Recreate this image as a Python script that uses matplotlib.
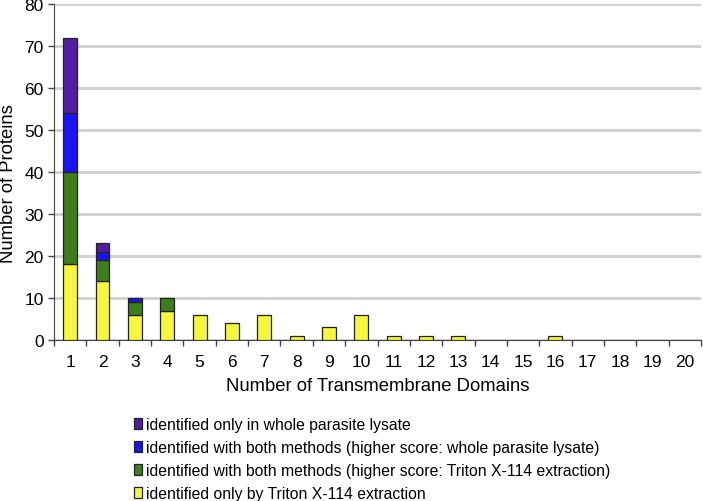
import matplotlib.pyplot as plt
import numpy as np

plt.rcParams['font.family'] = ['Liberation Sans', 'DejaVu Sans']

# number of transmembrane domains
tm_domains = list(range(1, 21))

triton_only = [18, 14, 6, 7, 6, 4, 6, 1, 3, 6, 1, 1, 1, 0, 0, 1, 0, 0, 0, 0]
both_triton = [22, 5, 3, 3, 0, 0, 0, 0, 0, 0, 0, 0, 0, 0, 0, 0, 0, 0, 0, 0]
both_lysate = [14, 2, 1, 0, 0, 0, 0, 0, 0, 0, 0, 0, 0, 0, 0, 0, 0, 0, 0, 0]
lysate_only = [18, 2, 0, 0, 0, 0, 0, 0, 0, 0, 0, 0, 0, 0, 0, 0, 0, 0, 0, 0]

labels = ['identified only in whole parasite lysate',
          'identified with both methods (higher score: whole parasite lysate)',
          'identified with both methods (higher score: Triton X-114 extraction)',
          'identified only by Triton X-114 extraction']
colors = ['#4f1fa3', '#1a14f2', '#3d7d1c', '#f6f63c']

fig = plt.figure(figsize=(7.03, 5.02), dpi=100)
ax = fig.add_axes([54/703, 1-341/502, 647/703, 336/502])

x = np.arange(len(tm_domains))
series = [triton_only, both_triton, both_lysate, lysate_only]
series_colors = colors[::-1]
series_labels = labels[::-1]
bottom = np.zeros(len(x))
handles = []
for vals, c, lab in zip(series, series_colors, series_labels):
    vals = np.array(vals, dtype=float)
    keep = vals > 0
    h = ax.bar(x[keep], vals[keep], 0.43, bottom=bottom[keep], color=c,
               edgecolor='#222222', linewidth=0.9, label=lab, zorder=3)
    handles.append(h)
    bottom += vals

ax.set_xlim(-0.5, len(x) - 0.5)
ax.set_ylim(0, 80)
ax.set_yticks(range(0, 81, 10))
ax.set_xticks(x)
ax.set_xticklabels([str(t) for t in tm_domains], fontsize=12.5)
ax.set_xticks(np.arange(-0.5, len(x), 1), minor=True)
ax.tick_params(axis='x', which='major', length=0, pad=10)
ax.tick_params(axis='x', which='minor', length=4, width=1, direction='out', color='#444444')
ax.tick_params(axis='y', length=4, width=1, direction='out', labelsize=12.5, color='#444444')
ax.yaxis.grid(True, color='#cfcfcf', linewidth=2, zorder=0)
ax.set_axisbelow(True)
for s in ['top', 'right']:
    ax.spines[s].set_visible(False)
ax.spines['left'].set_color('#444444')
ax.spines['bottom'].set_color('#444444')

ax.set_xlabel('Number of Transmembrane Domains', fontsize=13.3, labelpad=6)
ax.set_ylabel('Number of Proteins', fontsize=13.3)
ax.yaxis.set_label_coords(-0.057, 0.47)

fig.legend(handles[::-1], labels, loc='upper left', bbox_to_anchor=(128/703, 1-412/502),
           frameon=False, fontsize=11.3, handlelength=0.5, handleheight=0.7,
           handletextpad=0.25, labelspacing=0.5, borderaxespad=0)

fig.savefig('out.png', dpi=100)
